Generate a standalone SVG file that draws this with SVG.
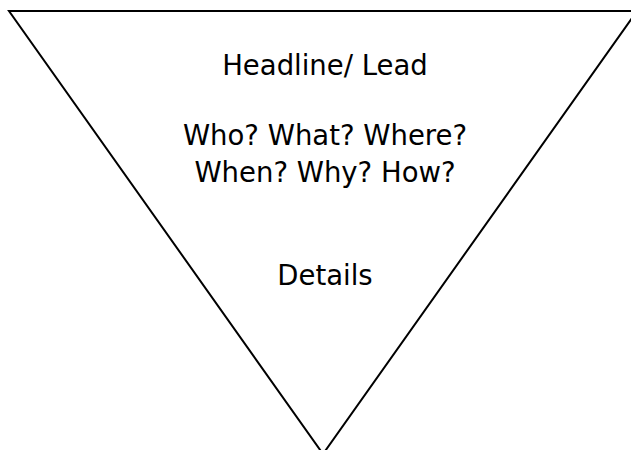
<svg xmlns="http://www.w3.org/2000/svg" width="631" height="450" viewBox="0 0 631 450">
<style>
.t{font-family:"DejaVu Sans","Liberation Sans",sans-serif;font-size:27.5px;fill:#000;text-anchor:middle}
</style>
<rect width="631" height="450" fill="#fff"/>
<g id="funnel">
<polygon points="9,11 637,11 323,454" fill="none" stroke="#000" stroke-width="2"/>
</g>
<g id="labels">
<text class="t" x="325" y="75">Headline/ Lead</text>
<text class="t" x="325" y="145">Who? What? Where?</text>
<text class="t" x="325" y="182">When? Why? How?</text>
<text class="t" x="325" y="285">Details</text>
</g>
</svg>
